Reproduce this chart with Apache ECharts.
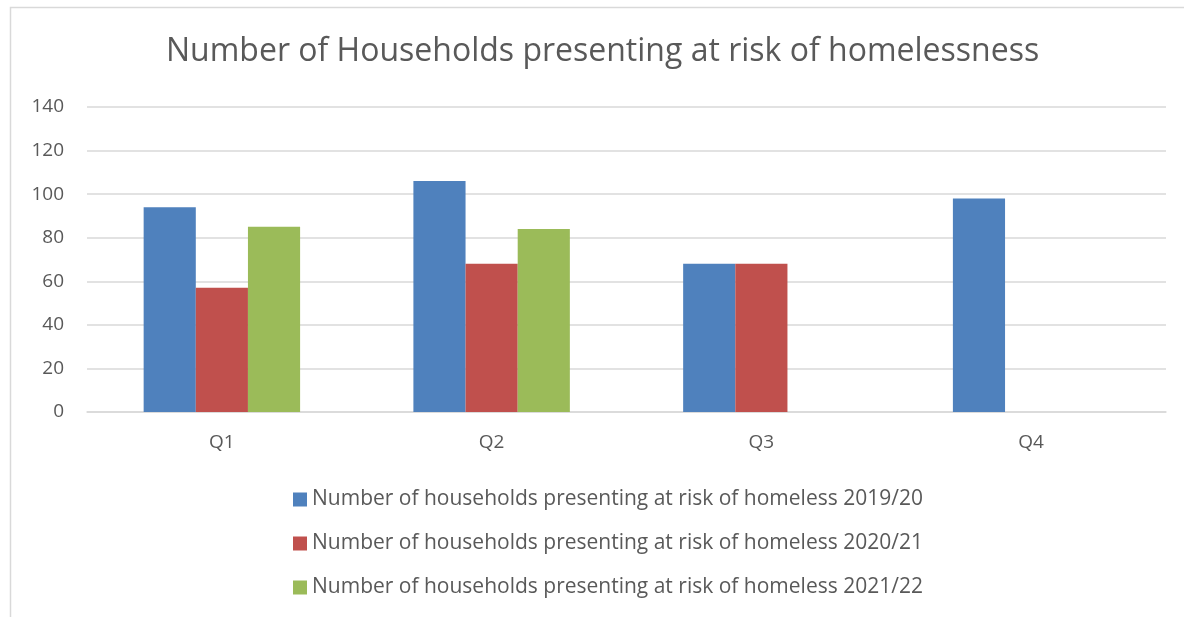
<!DOCTYPE html>
<html><head><meta charset="utf-8">
<script src="https://cdn.jsdelivr.net/npm/echarts@6/dist/echarts.min.js"></script>
<style>html,body{margin:0;padding:0;background:#fff;}#c{width:1184px;height:617px;}</style>
</head><body><div id="c"></div>
<script>
const categories = ['Q1','Q2','Q3','Q4'];
const seriesNames = [
  'Number of households presenting at risk of homeless 2019/20',
  'Number of households presenting at risk of homeless 2020/21',
  'Number of households presenting at risk of homeless 2021/22'
];
const values2019 = [94, 106, 68, 98];
const values2020 = [57, 68, 68, null];
const values2021 = [85, 84, null, null];
const colors = ['#4f81bd','#c0504d','#9bbb59'];
const font = 'Open Sans';
const chart = echarts.init(document.getElementById('c'));
chart.setOption({
  animation:false,
  title:{text:'Number of Households presenting at risk of homelessness',left:161,top:31,
    textStyle:{fontFamily:font,fontSize:32,fontWeight:'normal',color:'#595959'}},
  graphic:[{type:'rect',shape:{x:10.5,y:7.5,width:1180,height:620},style:{fill:'none',stroke:'#d9d9d9',lineWidth:1.5}}],
  grid:{left:87,right:18,top:107,bottom:205,containLabel:false},
  legend:{orient:'vertical',left:288,top:484,itemGap:23,itemWidth:14,itemHeight:14,icon:'rect',
    textStyle:{fontFamily:font,fontSize:21,color:'#595959',padding:[0,0,0,0]}},
  xAxis:{type:'category',data:categories,axisTick:{show:false},
    axisLine:{lineStyle:{color:'#d9d9d9',width:1.5}},
    axisLabel:{fontFamily:font,fontSize:19,color:'#595959',margin:21}},
  yAxis:{type:'value',min:0,max:140,interval:20,axisLine:{show:false},axisTick:{show:false},
    splitLine:{lineStyle:{color:'#d9d9d9',width:1.5}},
    axisLabel:{fontFamily:font,fontSize:19,color:'#595959',margin:23}},
  series:[
    {name:seriesNames[0],type:'bar',data:values2019,itemStyle:{color:colors[0]},barGap:'0%',barCategoryGap:'42%'},
    {name:seriesNames[1],type:'bar',data:values2020,itemStyle:{color:colors[1]},barGap:'0%',barCategoryGap:'42%'},
    {name:seriesNames[2],type:'bar',data:values2021,itemStyle:{color:colors[2]},barGap:'0%',barCategoryGap:'42%'}
  ]
});
</script></body></html>
